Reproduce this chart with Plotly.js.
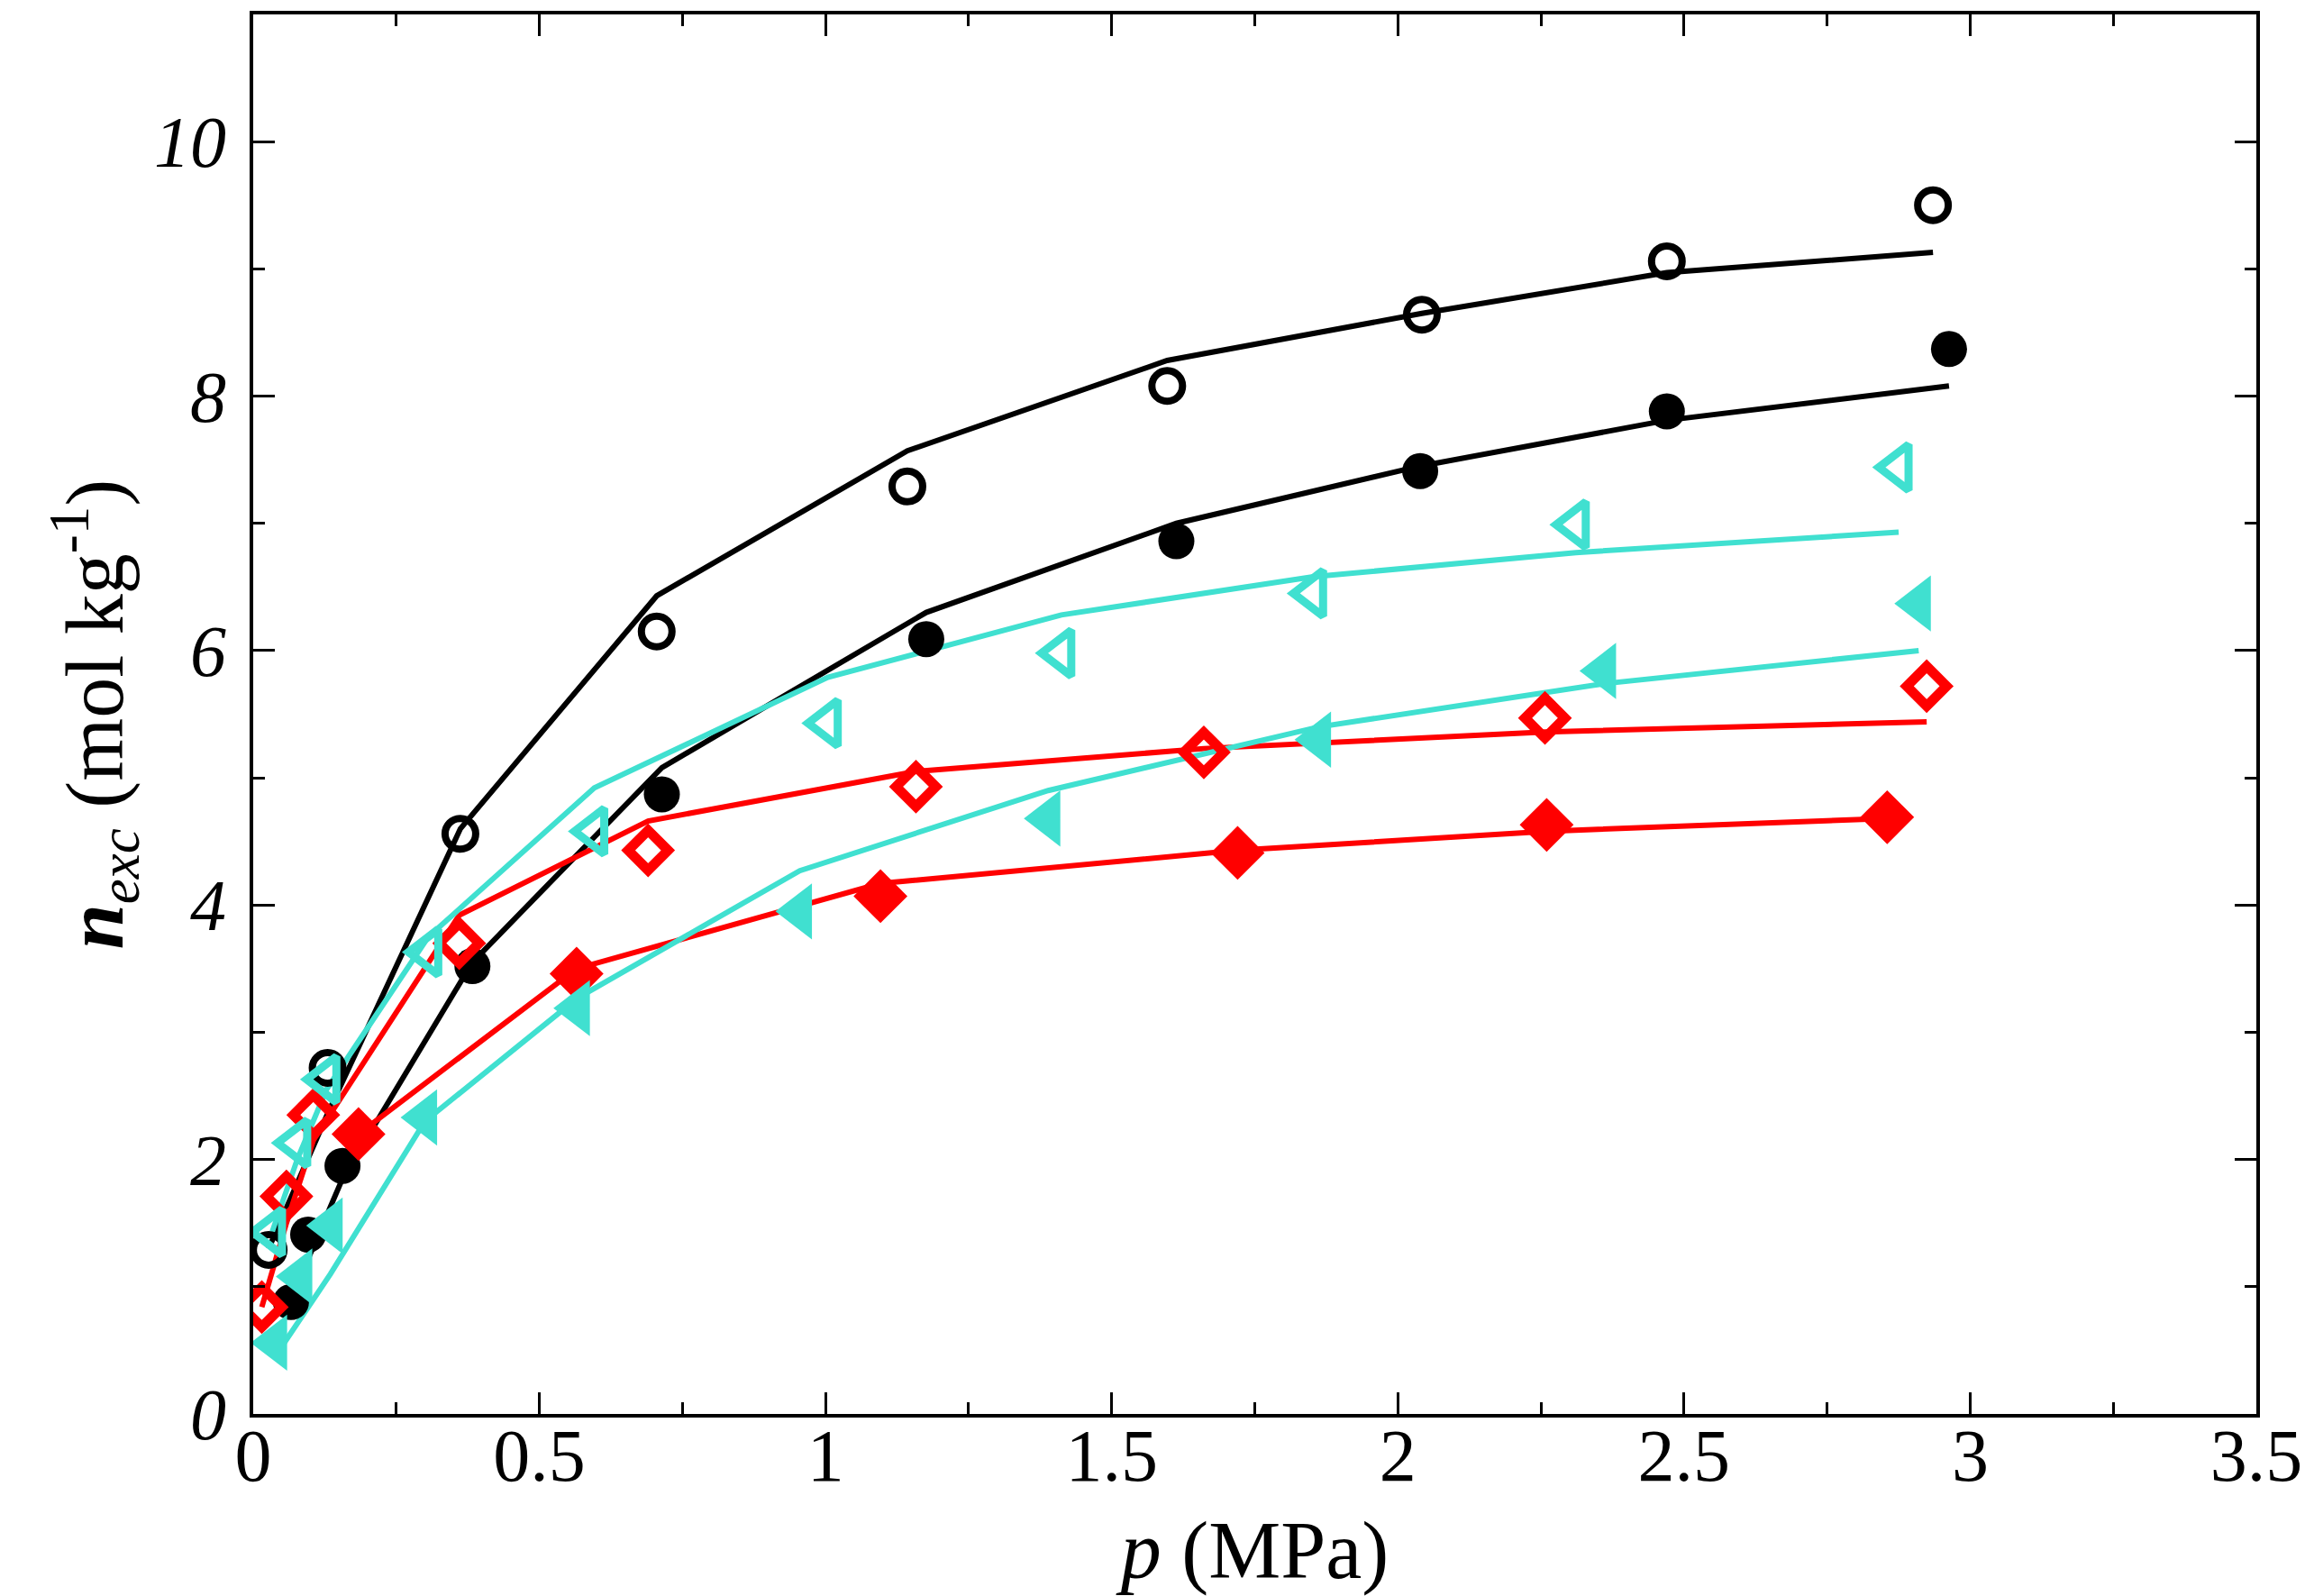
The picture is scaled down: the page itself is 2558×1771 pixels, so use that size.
<!DOCTYPE html>
<html>
<head>
<meta charset="utf-8">
<script src="https://cdn.plot.ly/plotly-3.0.1.min.js"></script>
<style>
	html, body { margin: 0; padding: 0; background: #fff; }
	#adsorption-graph { width: 2558px; height: 1771px; }
</style>
</head>
<body>
<div id="adsorption-graph"></div>
<script>
'use strict';

// pressures (MPa) and excess uptake (mol/kg)
// black, open circles
const pBlackOpen = [0.027, 0.13, 0.362, 0.705, 1.143, 1.597, 2.042, 2.47, 2.935];
const nBlackOpen = [1.29, 2.72, 4.56, 6.15, 7.29, 8.08, 8.64, 9.06, 9.5];
const fitBlackOpen = [1.3, 2.36, 4.6, 6.43, 7.57, 8.28, 8.65, 8.97, 9.13];

// black, filled circles
const pBlackFull = [0.066, 0.096, 0.156, 0.383, 0.714, 1.176, 1.613, 2.039, 2.47, 2.963];
const nBlackFull = [0.88, 1.41, 1.95, 3.52, 4.87, 6.09, 6.86, 7.41, 7.88, 8.37];
const fitBlackFull = [0.85, 1.22, 1.85, 3.55, 5.08, 6.3, 7.0, 7.45, 7.81, 8.08];

// red, open diamonds
const pRedOpen = [0.015, 0.058, 0.105, 0.36, 0.69, 1.158, 1.661, 2.257, 2.924];
const nRedOpen = [0.84, 1.71, 2.35, 3.7, 4.43, 4.93, 5.2, 5.47, 5.72];
const fitRedOpen = [0.84, 1.5, 2.15, 3.92, 4.66, 5.05, 5.23, 5.36, 5.44];

// red, filled diamonds
const pRedFull = [0.184, 0.565, 1.096, 1.72, 2.26, 2.855];
const nRedFull = [2.2, 3.46, 4.07, 4.41, 4.63, 4.69];
const fitRedFull = [2.2, 3.5, 4.17, 4.43, 4.58, 4.68];

// turquoise, open left triangles
const pCyanOpen = [0.033, 0.077, 0.128, 0.306, 0.596, 1.004, 1.412, 1.852, 2.311, 2.875];
const nCyanOpen = [1.43, 2.13, 2.63, 3.63, 4.58, 5.43, 5.98, 6.45, 6.99, 7.44];
const fitCyanOpen = [1.43, 2.0, 2.55, 3.75, 4.92, 5.79, 6.28, 6.58, 6.77, 6.93];

// turquoise, filled left triangles
const pCyanFull = [0.038, 0.082, 0.135, 0.30, 0.567, 0.955, 1.389, 1.862, 2.36, 2.91];
const nCyanFull = [0.56, 1.08, 1.48, 2.33, 3.19, 3.95, 4.68, 5.3, 5.84, 6.37];
const fitCyanFull = [0.45, 0.75, 1.1, 2.3, 3.27, 4.27, 4.9, 5.4, 5.74, 6.0];

const BLACK = '#000000';
const RED = '#ff0000';
const CYAN = '#40e0d0';
const SERIF = 'Liberation Serif, Times New Roman, serif';

const createAdsorptionGraph = function () {
	// helper for the model curves
	var fitLine = function (x, y, color) {
		return {
			x: x,
			y: y,
			type: 'scatter',
			mode: 'lines',
			line: { color: color, width: 6 },
			hoverinfo: 'none',
		};
	};
	// helper for the measured points
	var points = function (x, y, color, symbol, size, lw) {
		return {
			x: x,
			y: y,
			type: 'scatter',
			mode: 'markers',
			marker: {
				symbol: symbol,
				size: size,
				color: color,
				line: { color: color, width: lw },
			},
			hoverinfo: 'none',
		};
	};

	var traces = [
		fitLine(pBlackOpen, fitBlackOpen, BLACK),
		fitLine(pBlackFull, fitBlackFull, BLACK),
		fitLine(pRedOpen, fitRedOpen, RED),
		fitLine(pRedFull, fitRedFull, RED),
		fitLine(pCyanOpen, fitCyanOpen, CYAN),
		fitLine(pCyanFull, fitCyanFull, CYAN),
		points(pBlackOpen, nBlackOpen, BLACK, 'circle-open', 34, 8),
		points(pBlackFull, nBlackFull, BLACK, 'circle', 40, 0),
		points(pRedOpen, nRedOpen, RED, 'diamond-open', 34, 11),
		points(pRedFull, nRedFull, RED, 'diamond', 46, 0),
		points(pCyanOpen, nCyanOpen, CYAN, 'triangle-left-open', 44, 9),
		points(pCyanFull, nCyanFull, CYAN, 'triangle-left', 54, 0),
	];

	var axisCommon = {
		showline: true,
		linecolor: '#000',
		linewidth: 4,
		mirror: 'allticks',
		showgrid: false,
		zeroline: false,
		ticks: 'inside',
		ticklen: 24,
		tickwidth: 3,
		tickcolor: '#000',
	};

	var layout = {
		width: 2558,
		height: 1771,
		margin: { l: 281, r: 54, t: 16, b: 202, pad: 0 },
		showlegend: false,
		paper_bgcolor: '#fff',
		plot_bgcolor: '#fff',
		font: { family: SERIF, color: '#000' },
		xaxis: Object.assign({}, axisCommon, {
			range: [0, 3.5],
			tick0: 0,
			dtick: 0.5,
			ticklabelstandoff: -28,
			tickfont: { family: SERIF, size: 82, color: '#000' },
			minor: { dtick: 0.25, ticks: 'inside', ticklen: 13, tickwidth: 3, tickcolor: '#000', showgrid: false },
			title: {
				text: '<i>p</i> (MPa)',
				font: { family: SERIF, size: 90, color: '#000' },
				standoff: 36,
			},
		}),
		yaxis: Object.assign({}, axisCommon, {
			range: [0, 11],
			tick0: 0,
			dtick: 2,
			ticklabelstandoff: 10,
			tickfont: { family: SERIF, size: 80, color: '#000', style: 'italic' },
			minor: { dtick: 1, ticks: 'inside', ticklen: 13, tickwidth: 3, tickcolor: '#000', showgrid: false },
			title: {
				text: '<b><i>n</i></b><sub><i>exc</i></sub> (mol kg<sup>-1</sup>)',
				font: { family: SERIF, size: 90, color: '#000' },
				standoff: 6,
			},
		}),
	};

	var config = { staticPlot: true };
	// draw it
	Plotly.newPlot('adsorption-graph', traces, layout, config);
};

document.addEventListener('DOMContentLoaded', createAdsorptionGraph);
</script>
</body>
</html>
